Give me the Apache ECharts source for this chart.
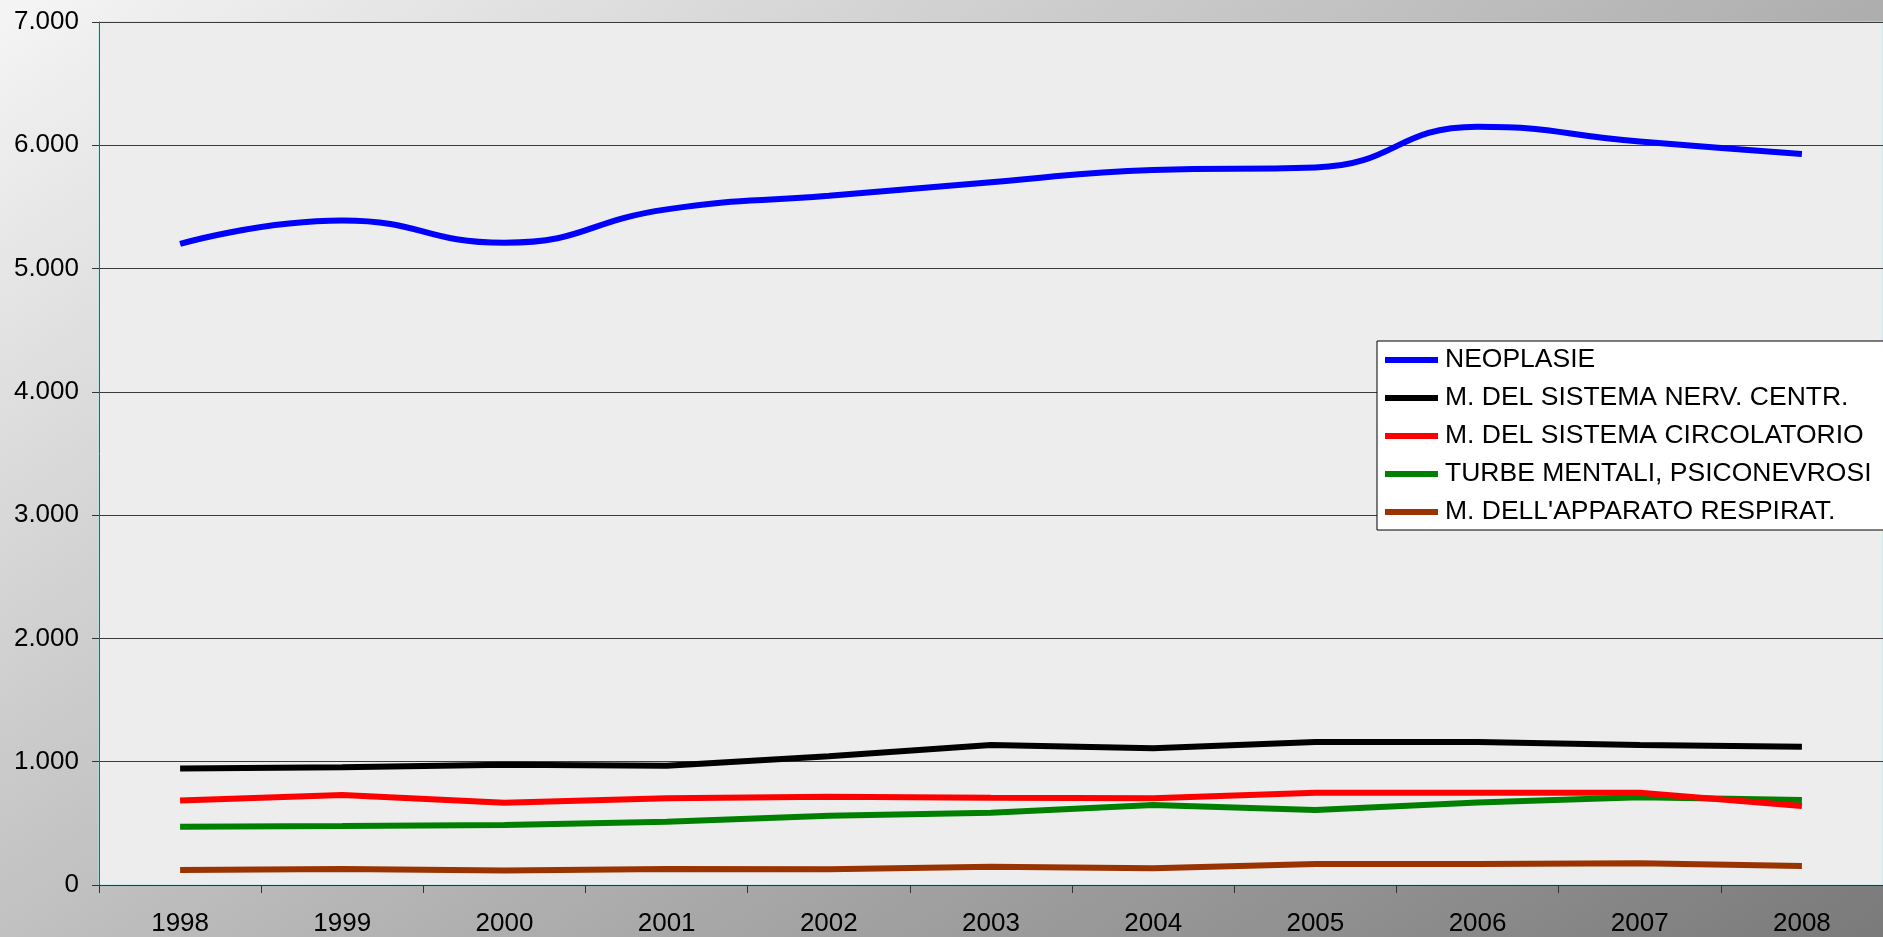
<!DOCTYPE html>
<html>
<head>
<meta charset="utf-8">
<script src="https://cdn.jsdelivr.net/npm/echarts@6/dist/echarts.min.js"></script>
<style>
html,body{margin:0;padding:0;width:1883px;height:937px;overflow:hidden;}
#chart{width:1883px;height:937px;}
</style>
</head>
<body>
<div id="chart"></div>
<script>
const years = ['1998','1999','2000','2001','2002','2003','2004','2005','2006','2007','2008'];
const seriesNames = ['NEOPLASIE','M. DEL SISTEMA NERV. CENTR.','M. DEL SISTEMA CIRCOLATORIO','TURBE MENTALI, PSICONEVROSI',"M. DELL'APPARATO RESPIRAT."];
const neoplasie    = [5200, 5390, 5210, 5480, 5590, 5700, 5800, 5820, 6150, 6030, 5930];
const nervCentr    = [945, 955, 975, 968, 1045, 1135, 1110, 1160, 1160, 1135, 1122];
const circolatorio = [685, 730, 668, 703, 716, 708, 703, 749, 749, 749, 641];
const turbe        = [473, 479, 487, 514, 562, 587, 649, 608, 670, 711, 689];
const respirat     = [122, 130, 117, 130, 127, 149, 135, 170, 170, 176, 154];
const yTicks = [0, 1000, 2000, 3000, 4000, 5000, 6000, 7000];

const colors = ['#0000ff', '#000000', '#ff0000', '#008000', '#993300'];
const values = [neoplasie, nervCentr, circolatorio, turbe, respirat];
const smoothFlags = [true, false, false, false, false];

const chart = echarts.init(document.getElementById('chart'), null, {renderer: 'canvas'});
const font = 'Liberation Sans, Arial, sans-serif';

chart.setOption({
  animation: false,
  backgroundColor: {
    type: 'linear', x: 0, y: 0, x2: 0.544, y2: 1.619,
    colorStops: [{offset: 0, color: '#f5f5f5'}, {offset: 1, color: '#7a7a7a'}]
  },
  grid: {
    left: 99, top: 22, right: -3, bottom: 50,
    show: true,
    backgroundColor: '#ededed',
    borderColor: '#a8ecec',
    borderWidth: 1,
    containLabel: false
  },
  legend: {
    orient: 'vertical',
    left: 1377, top: 341,
    data: seriesNames,
    icon: 'rect',
    itemWidth: 53, itemHeight: 6,
    itemGap: 8,
    padding: [4, 12, 3, 8],
    backgroundColor: '#ffffff',
    borderColor: '#000000',
    borderWidth: 1,
    borderRadius: 0,
    selectedMode: false,
    textStyle: {fontFamily: font, fontSize: 26.5, color: '#000', lineHeight: 30, padding: [0, 0, 0, 2]}
  },
  xAxis: {
    type: 'category',
    data: years,
    boundaryGap: true,
    axisLine: {show: true, lineStyle: {color: '#333', width: 1}},
    axisTick: {show: true, length: 8, lineStyle: {color: '#333'}},
    axisLabel: {fontFamily: font, fontSize: 26, color: '#000', margin: 26},
    splitLine: {show: false}
  },
  yAxis: {
    type: 'value',
    min: yTicks[0], max: yTicks[yTicks.length - 1], interval: yTicks[1] - yTicks[0],
    axisLine: {show: true, lineStyle: {color: '#555', width: 1}},
    axisTick: {show: true, length: 7, lineStyle: {color: '#333'}},
    axisLabel: {
      fontFamily: font, fontSize: 26, color: '#000', margin: 20,
      formatter: v => String(v).replace(/\B(?=(\d{3})+(?!\d))/g, '.')
    },
    splitLine: {show: true, lineStyle: {color: '#3a3a3a', width: 1}}
  },
  series: seriesNames.map((name, i) => ({
    name: name,
    type: 'line',
    data: values[i],
    smooth: smoothFlags[i],
    symbol: 'none',
    showSymbol: false,
    color: colors[i],
    lineStyle: {color: colors[i], width: 6},
    z: 10 - i
  }))
});
</script>
</body>
</html>
